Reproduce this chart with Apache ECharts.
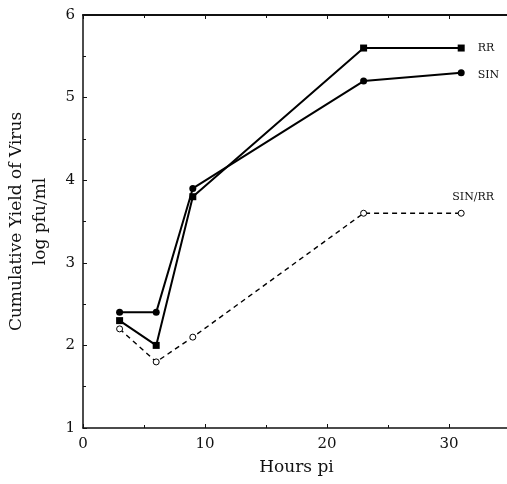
<!DOCTYPE html>
<html>
<head>
<meta charset="utf-8">
<script src="https://cdn.jsdelivr.net/npm/echarts@6/dist/echarts.min.js"></script>
<style>
  html, body { margin: 0; padding: 0; background: #fff; }
  #chart { width: 507px; height: 484px; }
</style>
</head>
<body>
<div id="chart"></div>
<script>
  // hours post infection
  var hours = [3, 6, 9, 23, 31];
  var rrYield = [2.3, 2.0, 3.8, 5.6, 5.6];
  var sinYield = [2.4, 2.4, 3.9, 5.2, 5.3];
  var sinRrYield = [2.2, 1.8, 2.1, 3.6, 3.6];

  function pairs(ys) {
    return hours.map(function (h, i) { return [h, ys[i]]; });
  }

  var font = '"DejaVu Serif", "Liberation Serif", serif';
  var chart = echarts.init(document.getElementById('chart'));

  function lastLabel(data, text, pos, offset) {
    var out = pairs(data);
    out[out.length - 1] = {
      value: out[out.length - 1],
      label: {
        show: true, formatter: text, position: pos, offset: offset,
        fontFamily: font, fontSize: 11, color: '#111'
      }
    };
    return out;
  }

  chart.setOption({
    animation: false,
    textStyle: { fontFamily: font },
    grid: { left: 83, right: -3, top: 15, bottom: 56, outerBoundsMode: 'none', containLabel: false },
    xAxis: [{
      type: 'value', min: 0, max: 35, interval: 10,
      name: 'Hours pi', nameLocation: 'middle', nameGap: 31,
      nameTextStyle: { fontSize: 17, color: '#111', fontFamily: font },
      axisLine: { lineStyle: { color: '#111', width: 1.5 } },
      axisTick: { inside: true, length: 4, lineStyle: { color: '#111' } },
      minorTick: { show: true, splitNumber: 2, length: 3, lineStyle: { color: '#111' } },
      axisLabel: { fontSize: 15, color: '#111', margin: 9, fontFamily: font,
        formatter: function (v) { return v > 30 ? '' : v; } },
      splitLine: { show: false }
    }, {
      type: 'value', min: 0, max: 35, interval: 10, position: 'top',
      axisLine: { lineStyle: { color: '#111', width: 2 } },
      axisTick: { inside: true, length: 4, lineStyle: { color: '#111' } },
      minorTick: { show: true, splitNumber: 2, length: 3, lineStyle: { color: '#111' } },
      axisLabel: { show: false },
      splitLine: { show: false }
    }],
    yAxis: {
      type: 'value', min: 1, max: 6, interval: 1,
      name: 'Cumulative Yield of Virus\nlog pfu/ml', nameLocation: 'middle', nameGap: 30,
      nameTextStyle: { fontSize: 17, color: '#111', fontFamily: font, lineHeight: 24 },
      axisLine: { lineStyle: { color: '#111', width: 1.5 } },
      axisTick: { inside: true, length: 4, lineStyle: { color: '#111' } },
      minorTick: { show: true, splitNumber: 2, length: 3, lineStyle: { color: '#111' } },
      axisLabel: { fontSize: 15, color: '#111', margin: 8, fontFamily: font },
      splitLine: { show: false }
    },
    series: [
      {
        name: 'RR', type: 'line', data: lastLabel(rrYield, 'RR', 'right', [8, 0]),
        symbol: 'rect', symbolSize: 7,
        lineStyle: { color: '#000', width: 2 },
        itemStyle: { color: '#000' }
      },
      {
        name: 'SIN', type: 'line', data: lastLabel(sinYield, 'SIN', 'right', [8, 2]),
        symbol: 'circle', symbolSize: 7,
        lineStyle: { color: '#000', width: 2 },
        itemStyle: { color: '#000' }
      },
      {
        name: 'SIN/RR', type: 'line', data: lastLabel(sinRrYield, 'SIN/RR', 'top', [12, -2]),
        symbol: 'circle', symbolSize: 6,
        lineStyle: { color: '#000', width: 1.4, type: [5, 4] },
        itemStyle: { color: '#fff', borderColor: '#000', borderWidth: 1 }
      }
    ]
  });
</script>
</body>
</html>
